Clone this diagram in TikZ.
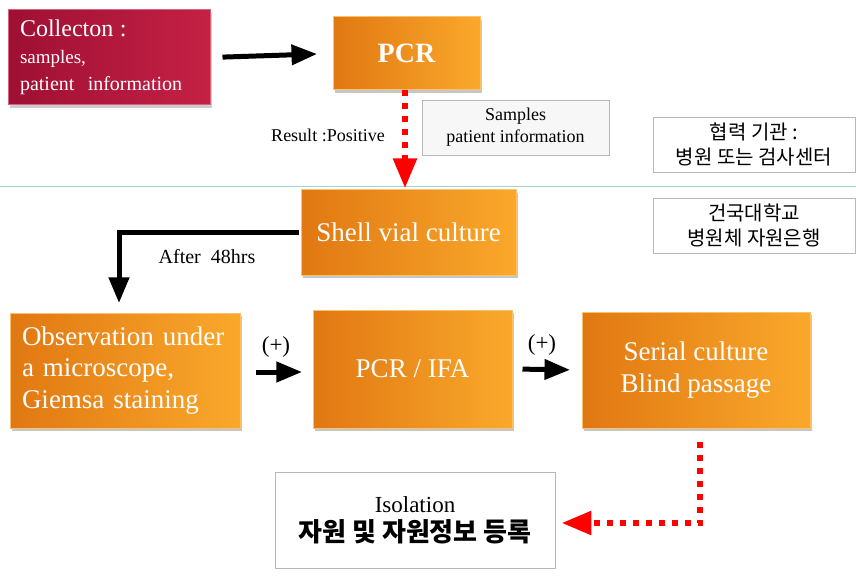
\documentclass[tikz,border=0pt]{standalone}
\usepackage{fontspec}
\setmainfont{Liberation Serif}
\newfontfamily\krfont{Noto Sans CJK KR}
\usepackage{tikz}
\usetikzlibrary{arrows,shadows}
\definecolor{rrddqq}{rgb}{0.62,0.06,0.2}
\definecolor{rrqqww}{rgb}{0.77,0.13,0.27}
\definecolor{ooddqq}{rgb}{0.88,0.47,0.07}
\definecolor{ooffqq}{rgb}{0.98,0.66,0.17}
\definecolor{ggbbcc}{rgb}{0.64,0.82,0.86}
\definecolor{uuuuuu}{rgb}{0.72,0.72,0.72}
\definecolor{ffgggg}{rgb}{0.97,0.97,0.97}
\begin{document}
\begin{tikzpicture}[x=1pt,y=-1pt,>=triangle 45,
	redbox/.style={shade,left color=rrddqq,right color=rrqqww,draw=rrqqww!70!white,line width=1pt,
		drop shadow={shadow xshift=2pt,shadow yshift=-3pt,opacity=0.4},text=white,inner sep=0pt},
	orangebox/.style={shade,left color=ooddqq,right color=ooffqq,draw=ooffqq!70!white,line width=1pt,
		drop shadow={shadow xshift=2pt,shadow yshift=-3pt,opacity=0.45},text=white,inner sep=0pt,align=center},
	notebox/.style={draw=uuuuuu,fill=ffgggg,line width=0.6pt,inner sep=0pt,align=center},
	blackarrow/.style={->,line width=5pt},
	redarrow/.style={->,red,line width=6pt,dash pattern=on 6pt off 7pt}]
	\useasboundingbox (0,0) rectangle (856,580);
	\draw [color=ggbbcc,line width=0.8pt] (0,186) -- (856,186);
	% upper row: partner side
	\node[redbox,minimum width=202pt,minimum height=95pt,align=left,text width=178pt,inner xsep=12pt,
		font=\fontsize{20}{27}\selectfont] (collect) at (109,57.5)
		{{\fontsize{24}{27}\selectfont Collecton :}\\{\fontsize{19}{27}\selectfont samples,}\\patient~ information};
	\node[orangebox,minimum width=147pt,minimum height=73pt,font=\fontsize{28}{32}\selectfont\bfseries] (pcr) at (406.5,53.5) {PCR};
	\node[notebox,minimum width=187pt,minimum height=55pt,font=\fontsize{18}{22}\selectfont] (samples) at (515.5,127.5) {Samples\\patient information};
	\node[font=\fontsize{18}{21}\selectfont] (result) at (328,135) {Result :Positive};
	\node[notebox,fill=white,minimum width=202pt,minimum height=55pt,font=\krfont\fontsize{20}{25}\selectfont] (partner) at (754,144.5) {협력 기관 :\\병원 또는 검사센터};
	\node[notebox,fill=white,minimum width=202pt,minimum height=55pt,font=\krfont\fontsize{20}{25}\selectfont] (konkuk) at (754,225.5) {건국대학교\\병원체 자원은행};
	% lower part: university side
	\node[orangebox,minimum width=215pt,minimum height=85pt,font=\fontsize{27}{31}\selectfont] (shell) at (408.5,232.5) {Shell vial culture};
	\node[font=\fontsize{20}{23}\selectfont] (after) at (207,257) {After~ 48hrs};
	\node[orangebox,minimum width=230pt,minimum height=115pt,align=left,text width=206pt,inner xsep=12pt,
		font=\fontsize{27}{31.5}\selectfont] (observe) at (125,370.5) {Observation under\\a microscope,\\Giemsa staining};
	\node[orangebox,minimum width=199pt,minimum height=118pt,font=\fontsize{27}{31}\selectfont] (pcrifa) at (412.5,369) {PCR / IFA};
	\node[orangebox,minimum width=228pt,minimum height=116pt,font=\fontsize{27}{32}\selectfont] (serial) at (696,370) {Serial culture\\Blind passage};
	\node[font=\fontsize{23}{26}\selectfont] (plusa) at (276,347) {(+)};
	\node[font=\fontsize{23}{26}\selectfont] (plusb) at (542,345) {(+)};
	\node[draw=uuuuuu,fill=white,line width=0.6pt,minimum width=280pt,minimum height=96pt,align=center,
		font=\fontsize{23}{29}\selectfont] (isolate) at (415,520)
		{Isolation\\{\krfont\bfseries\fontsize{26}{29}\selectfont 자원 및 자원정보 등록}};
	% connectors
	\draw[blackarrow,shorten <=12pt,shorten >=16pt] (collect.east) -- (pcr.west);
	\draw[redarrow,shorten >=2pt] ([xshift=-1.5pt]pcr.south) -- ([xshift=-1.5pt]pcr.south |- shell.north);
	\draw[blackarrow,shorten >=10pt] ([xshift=-2pt]shell.west) -| ([xshift=-6pt]observe.north);
	\draw[blackarrow,shorten <=15pt,shorten >=11pt] (observe.east |- pcrifa.center) ++(0,3) coordinate (oa) -- (oa -| pcrifa.west);
	\draw[blackarrow,shorten <=10pt,shorten >=12pt] (pcrifa.east) -- (serial.west);
	\draw[redarrow,shorten <=13pt,shorten >=7pt] ([xshift=4pt]serial.south) |- ([yshift=-3pt]isolate.east);
\end{tikzpicture}
\end{document}
